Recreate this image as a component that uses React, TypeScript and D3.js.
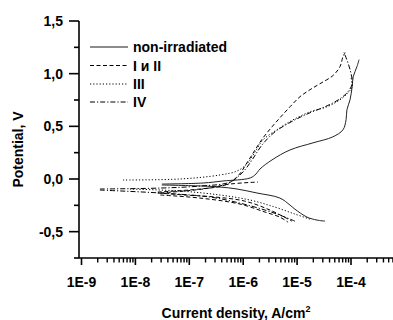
import React from 'react';
import * as d3 from 'd3';

type P = [number, number];

// axis ticks
const xMajorTicks = [1e-9, 1e-8, 1e-7, 1e-6, 1e-5, 1e-4];
const xTickLabels = ['1E-9', '1E-8', '1E-7', '1E-6', '1E-5', '1E-4'];
const yMajorTicks = [-0.5, 0, 0.5, 1.0, 1.5];
const yTickLabels = ['-0,5', '0,0', '0,5', '1,0', '1,5'];
const yMinorTicks = [-0.75, -0.25, 0.25, 0.75, 1.25];

const legendLabels = ['non-irradiated', 'I и II', 'III', 'IV'];

// [current density A/cm2, potential V]
const nonIrrCathodic: P[] = [
  [3.1e-8, -0.057], [1.8e-7, -0.067], [3.7e-7, -0.076], [7.7e-7, -0.095], [1.8e-6, -0.133],
  [4.8e-6, -0.181], [7.4e-6, -0.248], [9.1e-6, -0.286], [1.53e-5, -0.362], [2.34e-5, -0.39], [3.3e-5, -0.40],
];
const nonIrrAnodic: P[] = [
  [3.1e-8, -0.048], [1.8e-7, -0.038], [4.2e-7, -0.019], [1.35e-6, 0.01], [1.73e-6, 0.048],
  [2.05e-6, 0.095], [3.42e-6, 0.181], [7.4e-6, 0.276], [1.97e-5, 0.343], [4.6e-5, 0.40],
  [7.1e-5, 0.467], [8.1e-5, 0.562], [8.4e-5, 0.657], [9.6e-5, 0.752], [1.05e-4, 0.876],
  [1.1e-4, 0.971], [1.29e-4, 1.067], [1.41e-4, 1.133],
];
const irr1Cathodic: P[] = [
  [2.6e-8, -0.133], [8.3e-8, -0.152], [3.0e-7, -0.171], [1.07e-6, -0.21], [3.14e-6, -0.295], [8.0e-6, -0.40],
];
const irr1Anodic: P[] = [
  [2.6e-8, -0.124], [1.58e-7, -0.095], [4.6e-7, -0.057], [8.0e-7, 0.029], [1.17e-6, 0.152],
  [1.66e-6, 0.276], [2.33e-6, 0.39], [3.42e-6, 0.495], [4.8e-6, 0.581], [7.4e-6, 0.686],
  [1.13e-5, 0.781], [1.74e-5, 0.848], [2.66e-5, 0.905], [4.6e-5, 0.981], [6.25e-5, 1.067],
  [7.1e-5, 1.162], [7.8e-5, 1.20],
];
const irr2Cathodic: P[] = [
  [2.9e-8, -0.152], [1.58e-7, -0.181], [8.7e-7, -0.238], [2.54e-6, -0.314], [4.8e-6, -0.362], [6.8e-6, -0.41],
];
const irr2Anodic: P[] = [
  [2.9e-8, -0.133], [1.8e-7, -0.095], [5.7e-7, -0.048], [1.88e-6, -0.029],
];
const irr3Cathodic: P[] = [
  [7.9e-9, -0.095], [6.7e-8, -0.114], [3.7e-7, -0.152], [1.35e-6, -0.20], [3.9e-6, -0.267],
  [9.1e-6, -0.333], [1.74e-5, -0.381],
];
const irr3Anodic: P[] = [
  [5.9e-9, -0.0095], [6.7e-8, 0.0], [3.7e-7, 0.038], [7.7e-7, 0.076], [1.17e-6, 0.143],
  [1.66e-6, 0.257], [2.33e-6, 0.371], [4.8e-6, 0.486], [8.4e-6, 0.562], [1.74e-5, 0.638],
  [3.6e-5, 0.686], [6.25e-5, 0.752], [8.8e-5, 0.819], [1.05e-4, 0.876], [1.0e-4, 0.962],
];
const irr4Cathodic: P[] = [
  [2.2e-9, -0.105], [2.9e-8, -0.133], [2.4e-7, -0.171], [8.7e-7, -0.229], [2.54e-6, -0.295],
  [4.8e-6, -0.343], [9.1e-6, -0.40],
];
const irr4Anodic: P[] = [
  [2.2e-9, -0.095], [2.9e-8, -0.086], [1.58e-7, -0.067], [5.7e-7, -0.029], [9.9e-7, 0.067],
  [1.46e-6, 0.181], [2.24e-6, 0.324], [3.9e-6, 0.448], [8.4e-6, 0.552], [1.74e-5, 0.629],
  [3.6e-5, 0.695], [6.25e-5, 0.762], [8.8e-5, 0.829], [1.05e-4, 0.905], [9.6e-5, 1.038],
  [8.1e-5, 1.152], [7.4e-5, 1.20],
];

const W = 393;
const H = 320;
const FONT = '"Liberation Sans", Arial, Helvetica, sans-serif';

const styles = [
  { dash: undefined as string | undefined, color: '#222', width: 1 },
  { dash: '4,2.5', color: '#000', width: 1 },
  { dash: '1.2,2', color: '#000', width: 1 },
  { dash: '5,2,1.2,2', color: '#000', width: 1 },
];

export default function App() {
  const x = d3.scaleLog().domain([1e-9, 1e-3]).range([81.5, 404.9]);
  const y = d3.scaleLinear().domain([-0.75, 1.5]).range([258, 21]);
  const line = d3
    .line<P>()
    .x((d) => x(d[0]))
    .y((d) => y(d[1]))
    .curve(d3.curveMonotoneY === undefined ? d3.curveLinear : d3.curveCatmullRom.alpha(0.5));

  const series = [
    { style: 0, branches: [nonIrrCathodic, nonIrrAnodic] },
    { style: 1, branches: [irr1Cathodic, irr1Anodic, irr2Cathodic, irr2Anodic] },
    { style: 2, branches: [irr3Cathodic, irr3Anodic] },
    { style: 3, branches: [irr4Cathodic, irr4Anodic] },
  ];

  const allTicks = x.ticks();
  const minorX = allTicks.filter(
    (t) => !xMajorTicks.some((m) => Math.abs(m - t) / m < 1e-6) && x(t) <= W
  );

  const x0 = 79;
  const yBottom = y(-0.75);

  return (
    <svg
      width={W}
      height={H}
      style={{ position: 'absolute', left: 0, top: 0, background: '#fff' }}
      fontFamily={FONT}
    >
      <rect width={W} height={H} fill="#fff" />
      {series.map((s, i) =>
        s.branches.map((b, j) => (
          <path
            key={`${i}-${j}`}
            d={line(b) || ''}
            fill="none"
            stroke={styles[s.style].color}
            strokeWidth={styles[s.style].width}
            strokeDasharray={styles[s.style].dash}
          />
        ))
      )}
      {/* axes */}
      <line x1={x0} x2={x0} y1={y(1.5)} y2={yBottom} stroke="#000" strokeWidth={1.6} />
      <line x1={x0} x2={W + 5} y1={yBottom} y2={yBottom} stroke="#000" strokeWidth={1.6} />
      {yMajorTicks.map((t, i) => (
        <g key={`ym${i}`}>
          <line x1={x0 - 10} x2={x0} y1={y(t)} y2={y(t)} stroke="#000" strokeWidth={1.6} />
          <text x={63} y={y(t) + 5} textAnchor="end" fontSize={14} fontWeight="bold">
            {yTickLabels[i]}
          </text>
        </g>
      ))}
      {yMinorTicks.map((t, i) => (
        <line key={`yn${i}`} x1={x0 - 5} x2={x0} y1={y(t)} y2={y(t)} stroke="#000" strokeWidth={1.6} />
      ))}
      {xMajorTicks.map((t, i) => (
        <g key={`xm${i}`}>
          <line x1={x(t)} x2={x(t)} y1={yBottom} y2={yBottom + 7} stroke="#000" strokeWidth={1.6} />
          <text x={x(t)} y={287} textAnchor="middle" fontSize={14} fontWeight="bold">
            {xTickLabels[i]}
          </text>
        </g>
      ))}
      {minorX.map((t, i) => (
        <line key={`xn${i}`} x1={x(t)} x2={x(t)} y1={yBottom} y2={yBottom + 4.5} stroke="#000" strokeWidth={1.4} />
      ))}
      {/* axis titles */}
      <text
        transform={`translate(23, ${(y(1.5) + yBottom) / 2 + 10}) rotate(-90)`}
        textAnchor="middle"
        fontSize={14}
        fontWeight="bold"
      >
        Potential, V
      </text>
      <text x={236} y={318} textAnchor="middle" fontSize={14} fontWeight="bold">
        Current density, A/cm
        <tspan fontSize={9} dy={-6}>2</tspan>
      </text>
      {/* legend */}
      {legendLabels.map((lab, i) => {
        const ly = [47, 65.5, 84, 102][i];
        const st = styles[i];
        return (
          <g key={`lg${i}`}>
            <line
              x1={90}
              x2={128}
              y1={ly}
              y2={ly}
              stroke={i === 0 ? '#666' : st.color}
              strokeWidth={i === 0 ? 1.5 : 1}
              strokeDasharray={st.dash}
            />
            <text x={133} y={ly + 5} fontSize={14} fontWeight="bold">
              {lab}
            </text>
          </g>
        );
      })}
    </svg>
  );
}
